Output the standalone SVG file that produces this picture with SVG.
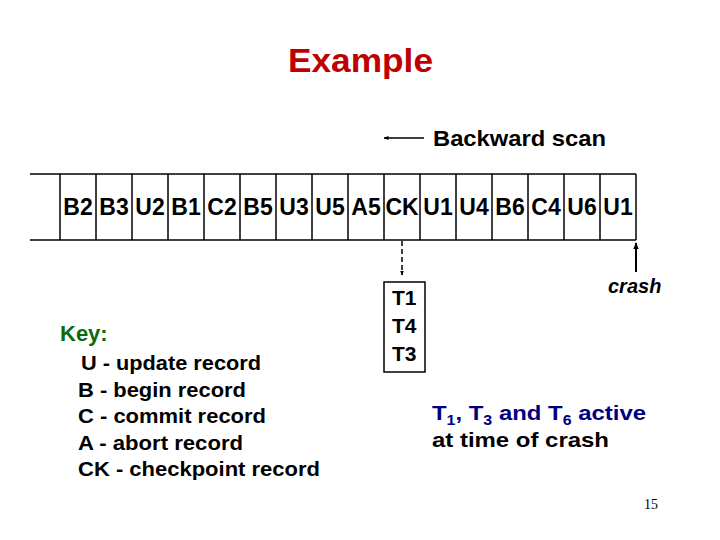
<svg xmlns="http://www.w3.org/2000/svg" width="720" height="540" viewBox="0 0 720 540">
<defs>
<style>
.t{font-family:"Liberation Sans",Arial,sans-serif;font-weight:bold;fill:#000}
.cell{font-size:23px;text-anchor:middle}
.ln{stroke:#000;stroke-width:1.5;fill:none}
.key{font-size:21px}
</style>
<marker id="ah" viewBox="0 0 10 10" refX="9" refY="5" markerWidth="5" markerHeight="5" orient="auto" markerUnits="userSpaceOnUse">
<path d="M0,1 L10,5 L0,9 Z" fill="#000"/>
</marker>
<marker id="ah2" viewBox="0 0 10 10" refX="9" refY="5" markerWidth="7" markerHeight="7" orient="auto" markerUnits="userSpaceOnUse">
<path d="M0,1 L10,5 L0,9 Z" fill="#000"/>
</marker>
</defs>
<rect width="720" height="540" fill="#fff"/>
<text id="title" x="288" y="72" textLength="145" lengthAdjust="spacingAndGlyphs" font-family="'Liberation Sans',Arial,sans-serif" font-weight="bold" font-size="34" fill="#C00000">Example</text>
<g id="scan">
<text class="t" x="433" y="146" font-size="22" textLength="173" lengthAdjust="spacingAndGlyphs">Backward scan</text>
</g>
<g id="log">
<line class="ln" x1="30" y1="174" x2="636" y2="174"/>
<line class="ln" x1="30" y1="240" x2="636" y2="240"/>
<g class="ln">
<line x1="60" y1="174" x2="60" y2="240"/><line x1="96" y1="174" x2="96" y2="240"/><line x1="132" y1="174" x2="132" y2="240"/><line x1="168" y1="174" x2="168" y2="240"/><line x1="204" y1="174" x2="204" y2="240"/><line x1="240" y1="174" x2="240" y2="240"/><line x1="276" y1="174" x2="276" y2="240"/><line x1="312" y1="174" x2="312" y2="240"/><line x1="348" y1="174" x2="348" y2="240"/><line x1="384" y1="174" x2="384" y2="240"/><line x1="420" y1="174" x2="420" y2="240"/><line x1="456" y1="174" x2="456" y2="240"/><line x1="492" y1="174" x2="492" y2="240"/><line x1="528" y1="174" x2="528" y2="240"/><line x1="564" y1="174" x2="564" y2="240"/><line x1="600" y1="174" x2="600" y2="240"/><line x1="636" y1="174" x2="636" y2="240"/>
</g>
<g class="t cell">
<text x="78" y="215">B2</text><text x="114" y="215">B3</text><text x="150" y="215">U2</text><text x="186" y="215">B1</text><text x="222" y="215">C2</text><text x="258" y="215">B5</text><text x="294" y="215">U3</text><text x="330" y="215">U5</text><text x="366" y="215">A5</text><text x="402" y="215">CK</text><text x="438" y="215">U1</text><text x="474" y="215">U4</text><text x="510" y="215">B6</text><text x="546" y="215">C4</text><text x="582" y="215">U6</text><text x="618" y="215">U1</text>
</g>
</g>
<g id="active-box">
<rect class="ln" x="384" y="282" width="41" height="90"/>
<text class="t" x="392" y="305" font-size="21">T1</text>
<text class="t" x="392" y="333" font-size="21">T4</text>
<text class="t" x="392" y="361" font-size="21">T3</text>
</g>
<g id="crash">
<text class="t" x="608" y="293" font-size="20" font-style="italic">crash</text>
</g>
<g id="key">
<text x="60" y="341" font-family="'Liberation Sans',Arial,sans-serif" font-size="22" fill="#0B6B0B" font-weight="bold">Key:</text>
<text class="t key" x="81" y="370" textLength="180" lengthAdjust="spacingAndGlyphs">U - update record</text>
<text class="t key" x="78" y="397" textLength="168" lengthAdjust="spacingAndGlyphs">B - begin record</text>
<text class="t key" x="78" y="423" textLength="188" lengthAdjust="spacingAndGlyphs">C - commit record</text>
<text class="t key" x="78" y="450" textLength="165" lengthAdjust="spacingAndGlyphs">A - abort record</text>
<text class="t key" x="78" y="476" textLength="242" lengthAdjust="spacingAndGlyphs">CK - checkpoint record</text>
</g>
<g id="note">
<text class="t" x="432" y="420" font-size="21" style="fill:#000080" textLength="214" lengthAdjust="spacingAndGlyphs">T<tspan font-size="14" dy="5">1</tspan><tspan dy="-5">, T</tspan><tspan font-size="14" dy="5">3</tspan><tspan dy="-5"> and T</tspan><tspan font-size="14" dy="5">6</tspan><tspan dy="-5"> active</tspan></text>
<text class="t" x="432" y="447" font-size="21" textLength="177" lengthAdjust="spacingAndGlyphs">at time of crash</text>
</g>
<text id="page" x="651" y="509" text-anchor="middle" font-family="'Liberation Serif','Times New Roman',serif" font-size="14" fill="#000">15</text>
<g id="connectors">
<line class="ln" x1="424" y1="138" x2="384" y2="138" marker-end="url(#ah)"/>
<line class="ln" x1="402" y1="241" x2="402" y2="275" stroke-dasharray="5,3" marker-end="url(#ah)"/>
<line x1="636" y1="272" x2="636" y2="243" stroke="#000" stroke-width="2" marker-end="url(#ah2)"/>
</g>
</svg>
